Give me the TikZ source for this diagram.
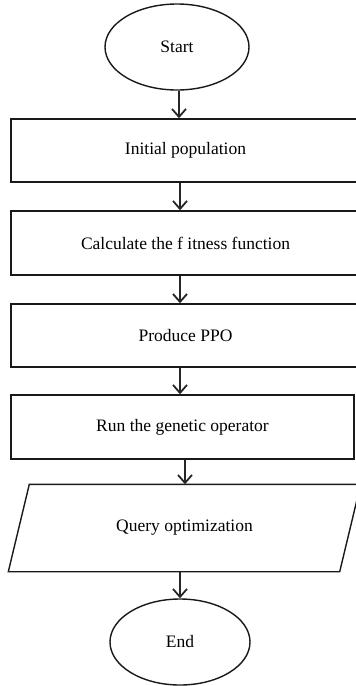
\documentclass[tikz,border=0pt]{standalone}
\usepackage{fontspec}
\setmainfont{Liberation Serif}
\usetikzlibrary{shapes.geometric,arrows.meta}
\begin{document}
\begin{tikzpicture}[x=1pt,y=-1pt,
  every node/.style={font=\fontsize{17.5}{20}\selectfont, inner sep=0pt, line width=1.4pt, draw=black!90},
  procbox/.style={rectangle, draw},
  term/.style={ellipse, draw},
  arr/.style={line width=1.2pt, draw=black!85, -{Straight Barb[length=8pt,width=14pt,line width=1.8pt]}}]
\useasboundingbox (0,0) rectangle (356,686);
\clip (0,0) rectangle (356,686);
\node[term, minimum width=144pt, minimum height=86pt] (start) at (177,47) {Start};
\node[procbox, minimum width=349pt, minimum height=63pt] (b1) at (185.5,150.5) {Initial population};
\node[procbox, minimum width=349pt, minimum height=64pt] (b2) at (185.5,243) {Calculate the f itness function};
\node[procbox, minimum width=349pt, minimum height=63pt] (b3) at (185.5,335.5) {Produce PPO};
\node[procbox, minimum width=343pt, minimum height=64pt] (b4) at (182.5,427) {Run the genetic operator};
\node[draw=none, minimum width=330pt, minimum height=86pt] (q) at (184.5,528) {Query optimization};
\draw[line width=1.4pt, draw=black!90] ([xshift=10.5pt]q.north west) -- ([xshift=10.5pt]q.north east) -- ([xshift=-10.5pt]q.south east) -- ([xshift=-10.5pt]q.south west) -- cycle;
\node[term, minimum width=140pt, minimum height=86pt] (end) at (180,642) {End};
\draw[arr] ([xshift=2pt]start.south) -- ([xshift=2pt]start.south |- b1.north);
\draw[arr] ([xshift=-5.5pt]b1.south) -- ([xshift=-5.5pt]b1.south |- b2.north);
\draw[arr] ([xshift=-5.5pt]b2.south) -- ([xshift=-5.5pt]b2.south |- b3.north);
\draw[arr] ([xshift=-5.5pt]b3.south) -- ([xshift=-5.5pt]b3.south |- b4.north);
\draw[arr] ([xshift=2.5pt]b4.south) -- ([xshift=2.5pt]b4.south |- q.north);
\draw[arr] (q.south -| end.north) -- (end.north);
\end{tikzpicture}
\end{document}
